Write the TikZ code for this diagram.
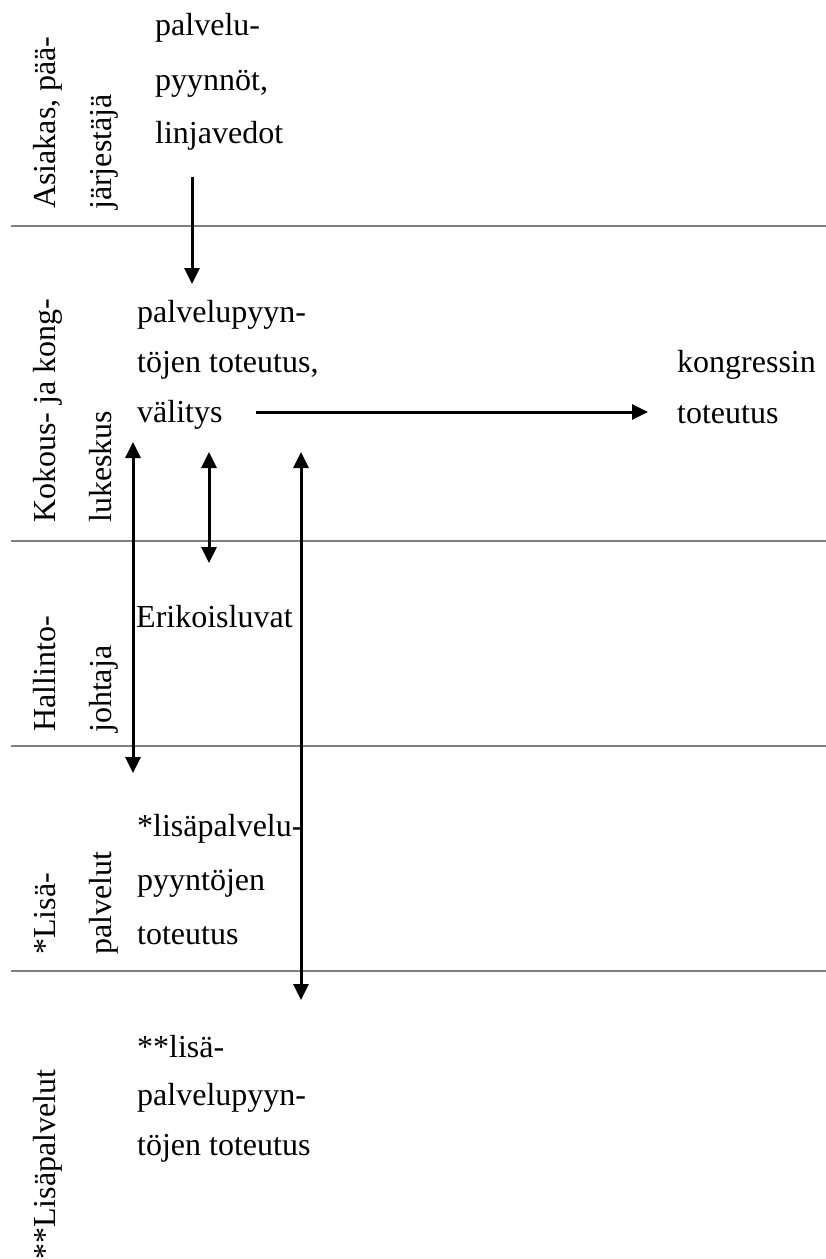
\documentclass[tikz,border=0pt]{standalone}
\usepackage{fontspec}
\setmainfont{Liberation Serif}
\usetikzlibrary{arrows.meta}
\definecolor{laneline}{RGB}{128,128,128}
\tikzset{
  x=1pt, y=1pt,
  lanelabel/.style={rotate=90, anchor=base west, inner sep=0pt,
    font=\fontsize{32}{38}\selectfont},
  celltext/.style={anchor=base west, inner sep=0pt,
    font=\fontsize{32}{38}\selectfont},
  lanesep/.style={draw=laneline, line width=2pt},
  flow/.style={line width=3pt, -{Triangle[length=16pt,width=15pt]}},
  flowboth/.style={line width=3pt, {Triangle[length=16pt,width=15pt]}-{Triangle[length=16pt,width=15pt]}}
}
\begin{document}
\begin{tikzpicture}
\useasboundingbox (0,0) rectangle (826,-1259);
\clip (0,0) rectangle (826,-1259);

% lane separators
\coordinate (s1l) at (11,-226);  \coordinate (s1r) at (826,-226);
\coordinate (s2l) at (11,-541);  \coordinate (s2r) at (826,-541);
\coordinate (s3l) at (11,-746);  \coordinate (s3r) at (826,-746);
\coordinate (s4l) at (11,-971);  \coordinate (s4r) at (826,-971);
\draw[lanesep] (s1l) -- (s1r);
\draw[lanesep] (s2l) -- (s2r);
\draw[lanesep] (s3l) -- (s3r);
\draw[lanesep] (s4l) -- (s4r);

% lane headings (vertical)
\node[lanelabel] (h1a) at (55,-209) {Asiakas, pää-};
\node[lanelabel] (h1b) at (111,-210) {järjestäjä};
\node[lanelabel] (h2a) at (55,-523) {Kokous- ja kong-};
\node[lanelabel] (h2b) at (111,-523) {lukeskus};
\node[lanelabel] (h3a) at (55,-732) {Hallinto-};
\node[lanelabel] (h3b) at (111,-733) {johtaja};
\node[lanelabel] (h4a) at (55,-955) {*Lisä-};
\node[lanelabel] (h4b) at (111,-955) {palvelut};
\node[lanelabel] (h5a) at (55,-1260) {**Lisäpalvelut};

% lane contents
\node[celltext] (c1a) at (155,-35) {palvelu-};
\node[celltext] (c1b) at (155,-90) {pyynnöt,};
\node[celltext] (c1c) at (155,-143) {linjavedot};

\node[celltext] (c2a) at (137,-322) {palvelupyyn-};
\node[celltext] (c2b) at (137,-372) {töjen toteutus,};
\node[celltext] (c2c) at (137,-422) {välitys};

\node[celltext] (k1) at (677,-372) {kongressin};
\node[celltext] (k2) at (677,-423) {toteutus};

\node[celltext] (c3a) at (136,-627) {Erikoisluvat};

\node[celltext] (c4a) at (137,-836) {*lisäpalvelu-};
\node[celltext] (c4b) at (137,-890) {pyyntöjen};
\node[celltext] (c4c) at (137,-944) {toteutus};

\node[celltext] (c5a) at (137,-1057) {**lisä-};
\node[celltext] (c5b) at (137,-1105) {palvelupyyn-};
\node[celltext] (c5c) at (137,-1155) {töjen toteutus};

% connector end points
\coordinate (a1s) at (192,-177);  \coordinate (a1e) at (192,-284);
\coordinate (a2s) at (256,-412);  \coordinate (a2e) at (648,-412);
\coordinate (a3s) at (133,-442);  \coordinate (a3e) at (133,-773);
\coordinate (a4s) at (209,-452);  \coordinate (a4e) at (209,-563);
\coordinate (a5s) at (301,-452);  \coordinate (a5e) at (301,-1000);

% connectors
\draw[flow] (a1s) -- (a1e);
\draw[flow] (a2s) -- (a2e);
\draw[flowboth] (a3s) -- (a3e);
\draw[flowboth] (a4s) -- (a4e);
\draw[flowboth] (a5s) -- (a5e);
\end{tikzpicture}
\end{document}
